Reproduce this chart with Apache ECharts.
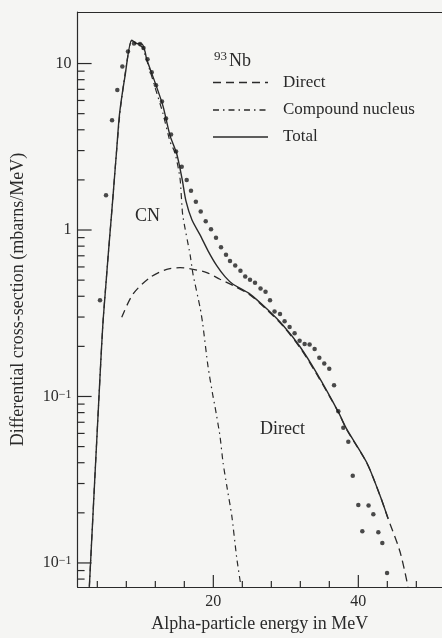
<!DOCTYPE html>
<html>
<head>
<meta charset="utf-8">
<script src="https://cdn.jsdelivr.net/npm/echarts@6/dist/echarts.min.js"></script>
<style>
  html, body { margin: 0; padding: 0; background: #f5f5f3; }
  #chart { width: 442px; height: 638px; }
</style>
</head>
<body>
<div id="chart"></div>
<script>
// Alpha-particle spectrum from 93Nb: measured points (MeV, mb/MeV)
const measuredEnergy = [4.37, 5.20, 6.03, 6.76, 7.45, 8.23, 9.06, 9.89, 10.37, 10.92,
  11.50, 12.10, 12.92, 13.48, 14.17, 14.86, 15.64, 16.33, 16.92, 17.59,
  18.26, 18.95, 19.68, 20.37, 21.06, 21.75, 22.30, 23.02, 23.74, 24.40,
  25.06, 25.75, 26.51, 27.20, 27.82, 28.44, 29.20, 29.83, 30.52, 31.21,
  31.90, 32.59, 33.28, 33.97, 34.62, 35.30, 35.99, 36.65, 37.24, 37.93,
  38.62, 39.23, 40.00, 40.55, 41.41, 42.07, 42.76, 43.31, 43.96];
const measuredXs = [0.379, 1.62, 4.57, 6.93, 9.6, 11.8, 13.2, 13.1, 12.4, 10.6,
  8.87, 7.40, 5.91, 4.68, 3.75, 2.96, 2.40, 2.00, 1.72, 1.48,
  1.29, 1.13, 1.01, 0.90, 0.787, 0.710, 0.651, 0.613, 0.570, 0.525,
  0.502, 0.482, 0.446, 0.426, 0.379, 0.324, 0.313, 0.283, 0.261, 0.240,
  0.216, 0.207, 0.205, 0.193, 0.171, 0.158, 0.147, 0.117, 0.0814, 0.0648,
  0.0534, 0.0334, 0.0223, 0.0155, 0.0221, 0.0196, 0.0153, 0.0132, 0.00869];

// Direct-reaction calculation
const directEnergy = [7.37, 8.92, 11.27, 13.57, 15.41, 17.20, 19.09, 20.92, 22.72, 25.06,
  27.37, 29.61, 31.96, 34.26, 37.2, 38.4, 41.16, 42.99, 44.10, 45.75, 46.85];
const directXs = [0.299, 0.412, 0.518, 0.580, 0.594, 0.580, 0.555, 0.506, 0.464, 0.407,
  0.332, 0.265, 0.196, 0.136, 0.081, 0.0631, 0.0399, 0.0254, 0.0185, 0.01167, 0.0072];

// Compound-nucleus (evaporation) calculation
const cnEnergy = [2.9, 4.23, 4.83, 6.14, 6.68, 7.15, 7.82, 8.74, 9.43, 10.17,
  10.58, 11.96, 13.06, 14.03, 14.72, 15.41, 15.78, 16.79, 17.20, 18.17,
  18.54, 19.27, 19.96, 20.23, 20.92, 21.34, 21.85, 22.54, 23.23, 23.78];
const cnXs = [0.0072, 0.1, 0.299, 1.55, 3.08, 5.2, 8.6, 13.8, 13.0, 12.6,
  11.3, 7.2, 5.0, 3.4, 2.9, 2.04, 1.23, 0.713, 0.542, 0.343,
  0.273, 0.151, 0.1, 0.087, 0.0578, 0.0401, 0.0291, 0.0193, 0.0107, 0.0074];

// Sum of both contributions
const totalEnergy = [2.9, 4.23, 4.83, 6.14, 6.68, 7.06, 7.82, 8.74, 9.43, 10.17,
  10.58, 10.81, 11.96, 13.06, 14.03, 14.95, 15.68, 16.23, 17.06, 18.17,
  19.27, 20.47, 21.61, 22.72, 25.06, 27.37, 29.61, 31.96, 34.26, 37.2,
  38.40, 41.16, 42.99, 44.10];
const totalXs = [0.0072, 0.1, 0.299, 1.55, 3.08, 4.97, 8.40, 13.8, 13.2, 13.1,
  11.8, 10.6, 7.7, 5.55, 3.69, 2.87, 2.04, 1.49, 1.147, 0.934,
  0.750, 0.611, 0.525, 0.472, 0.412, 0.336, 0.268, 0.199, 0.138, 0.0814,
  0.0637, 0.0401, 0.0254, 0.0185];

// Axis ticks
const xMajorTicks = [20, 40];
const xMinorTicks = [4, 8, 12, 16, 24, 28, 32, 36, 44, 48];
const yMajorTicks = [0.01, 0.1, 1, 10];
const yMajorLabels = ['10{sup|\u22121}', '10{sup|\u22121}', '1', '10'];
const yMinorTicks = [0.008, 0.009,
  0.02, 0.03, 0.04, 0.05, 0.06, 0.07, 0.08, 0.09,
  0.2, 0.3, 0.4, 0.5, 0.6, 0.7, 0.8, 0.9,
  2, 3, 4, 5, 6, 7, 8, 9];

const legendNames = ['Direct', 'Compound nucleus', 'Total'];

const INK = '#2a2a2a';
const SERIF = 'Liberation Serif';
const X_MIN = 1.28, X_MAX = 51.54;
const Y_MIN = 0.00716, Y_MAX = 20.4;
const DASH_DIRECT = [8, 5];
const DASH_CN = [6, 4, 1.5, 4];

const zip = (xs, ys) => xs.map((x, i) => [x, ys[i]]);

// Key: sample line + caption per curve
function keyRow(label, dash, y) {
  return [
    { type: 'line', shape: { x1: 213, y1: y, x2: 268, y2: y },
      style: { stroke: INK, lineWidth: 1.3, lineDash: dash } },
    { type: 'text', x: 283, y: y,
      style: { text: label, fill: INK, font: '17px "Liberation Serif"', verticalAlign: 'middle' } }
  ];
}

const chart = echarts.init(document.getElementById('chart'), null, { renderer: 'canvas' });

chart.setOption({
  animation: false,
  backgroundColor: '#f5f5f3',
  grid: { left: 77.6, right: 0, top: 12, bottom: 46 },
  xAxis: [
    {
      type: 'value', min: X_MIN, max: X_MAX, position: 'bottom',
      splitLine: { show: false },
      name: 'Alpha-particle energy in MeV',
      nameLocation: 'middle', nameGap: 26,
      nameTextStyle: { fontFamily: SERIF, fontSize: 18, color: INK },
      axisLine: { show: true, onZero: false, lineStyle: { color: INK, width: 1.2 } },
      axisTick: { show: false },
      axisLabel: { show: true, customValues: xMajorTicks, margin: 7,
                   fontFamily: SERIF, fontSize: 16, color: INK }
    },
    {
      type: 'value', min: X_MIN, max: X_MAX, position: 'top',
      splitLine: { show: false },
      axisLine: { show: true, onZero: false, lineStyle: { color: INK, width: 1.2 } },
      axisTick: { show: false },
      axisLabel: { show: false }
    }
  ],
  yAxis: [
    {
      type: 'log', logBase: 10, min: Y_MIN, max: Y_MAX, position: 'left',
      splitLine: { show: false }, minorSplitLine: { show: false },
      name: 'Differential cross-section (mbarns/MeV)',
      nameLocation: 'middle', nameGap: 50, nameRotate: 90,
      nameTextStyle: { fontFamily: SERIF, fontSize: 18, color: INK },
      axisLine: { show: true, onZero: false, lineStyle: { color: INK, width: 1.2 } },
      axisTick: { show: false },
      axisLabel: {
        show: true, customValues: yMajorTicks, margin: 6,
        fontFamily: SERIF, fontSize: 16, color: INK,
        formatter: function (v) {
          const i = yMajorTicks.findIndex(t => Math.abs(Math.log10(t) - Math.log10(v)) < 1e-6);
          return i >= 0 ? yMajorLabels[i] : '';
        },
        rich: { sup: { fontFamily: SERIF, fontSize: 12, color: INK, verticalAlign: 'top' } }
      }
    }
  ],
  series: [
    {
      name: legendNames[0], type: 'line', xAxisIndex: 0, yAxisIndex: 0,
      data: zip(directEnergy, directXs), symbol: 'none', smooth: 0.3,
      lineStyle: { color: INK, width: 1.3, type: DASH_DIRECT }, z: 3
    },
    {
      name: legendNames[1], type: 'line', xAxisIndex: 0, yAxisIndex: 0,
      data: zip(cnEnergy, cnXs), symbol: 'none', smooth: 0.2,
      lineStyle: { color: INK, width: 1.2, type: DASH_CN }, z: 3
    },
    {
      name: legendNames[2], type: 'line', xAxisIndex: 0, yAxisIndex: 0,
      data: zip(totalEnergy, totalXs), symbol: 'none', smooth: 0.25,
      lineStyle: { color: INK, width: 1.4, type: 'solid' }, z: 4
    },
    {
      name: 'Measured', type: 'scatter', xAxisIndex: 0, yAxisIndex: 0,
      data: zip(measuredEnergy, measuredXs), symbol: 'circle', symbolSize: 4.5,
      itemStyle: { color: '#1e1e1e' }, z: 5
    }
  ]
});

// Inward tick marks, placed with the axes' own value-to-pixel mapping
const toX = v => chart.convertToPixel({ xAxisIndex: 0 }, v);
const toY = v => chart.convertToPixel({ yAxisIndex: 0 }, v);
const axisX = toX(X_MIN), axisY = toY(Y_MIN);
function tick(x1, y1, x2, y2) {
  return { type: 'line', z: 100, shape: { x1: x1, y1: y1, x2: x2, y2: y2 },
           style: { stroke: INK, lineWidth: 1.2 } };
}
const tickElements = [].concat(
  xMajorTicks.map(v => tick(toX(v), axisY, toX(v), axisY - 12)),
  xMinorTicks.map(v => tick(toX(v), axisY, toX(v), axisY - 6)),
  yMajorTicks.map(v => tick(axisX, toY(v), axisX + 14, toY(v))),
  yMinorTicks.map(v => tick(axisX, toY(v), axisX + 7, toY(v)))
);

chart.setOption({
  graphic: [
    { type: 'text', x: 214, y: 50, style: { text: '93', fill: INK, font: '13px "Liberation Serif"' } },
    { type: 'text', x: 229, y: 52, style: { text: 'Nb', fill: INK, font: '18px "Liberation Serif"' } },
    ...keyRow(legendNames[0], DASH_DIRECT, 82.5),
    ...keyRow(legendNames[1], DASH_CN, 110),
    ...keyRow(legendNames[2], null, 137),
    { type: 'text', x: 135, y: 207,
      style: { text: 'CN', fill: INK, font: '18px "Liberation Serif"' } },
    { type: 'text', x: 260, y: 420,
      style: { text: 'Direct', fill: INK, font: '18px "Liberation Serif"' } }
  ].concat(tickElements)
});
</script>
</body>
</html>
